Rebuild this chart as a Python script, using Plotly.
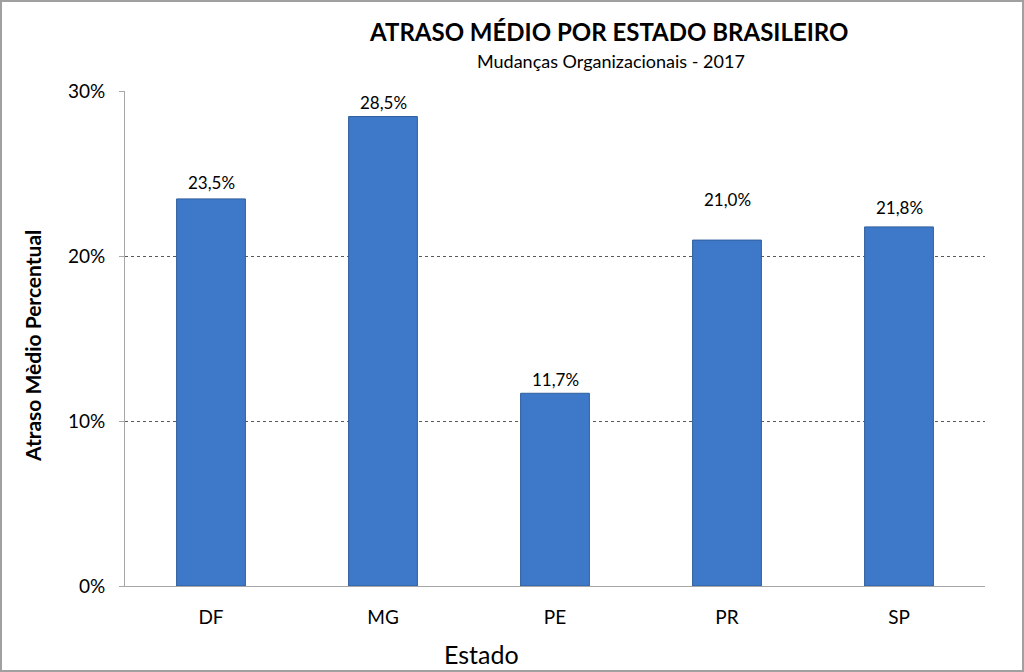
import plotly.graph_objects as go

estados = ["DF", "MG", "PE", "PR", "SP"]
atraso = [0.235, 0.285, 0.117, 0.210, 0.218]
rotulos = ["23,5%", "28,5%", "11,7%", "21,0%", "21,8%"]
y_ticks = [0, 0.1, 0.2, 0.3]
y_tick_labels = ["0%", "10%", "20%", "30%"]

# label offsets above bar tops (pixels), style only
label_offsets_px = [16, 14, 14, 41, 19]

W, H = 1024, 672
L, R, T, B = 125, 39, 91, 86
pw, ph = W - L - R, H - T - B

FONT = "Lato"

fig = go.Figure()
fig.add_trace(go.Bar(
    x=estados, y=atraso,
    marker=dict(color="#3E78C8", line=dict(color="#2F5E9E", width=1)),
    width=0.4,
))

for e, v, t, off in zip(estados, atraso, rotulos, label_offsets_px):
    fig.add_annotation(x=e, y=v, text=t, showarrow=False, yshift=off,
                       font=dict(family=FONT, size=17, color="black"))

def py(px):
    return (H - B - px) / ph

def px_x(px):
    return (px - L) / pw

fig.add_annotation(xref="paper", yref="paper", x=px_x(608), y=py(32),
                   text="<b>ATRASO MÉDIO POR ESTADO BRASILEIRO</b>", showarrow=False,
                   font=dict(family=FONT, size=24, color="black"), yanchor="middle")
fig.add_annotation(xref="paper", yref="paper", x=px_x(611), y=py(61),
                   text="Mudanças Organizacionais - 2017", showarrow=False,
                   font=dict(family=FONT, size=18, color="black"), yanchor="middle")
fig.add_annotation(xref="paper", yref="paper", x=px_x(481), y=py(654),
                   text="Estado", showarrow=False,
                   font=dict(family=FONT, size=25, color="black"), yanchor="middle")
fig.add_annotation(xref="paper", yref="paper", x=px_x(32), y=py(346),
                   text="<b>Atraso Mèdio Percentual</b>", showarrow=False, textangle=-90,
                   font=dict(family=FONT, size=21, color="black"),
                   xanchor="center", yanchor="middle")

fig.update_layout(
    width=W, height=H,
    margin=dict(l=L, r=R, t=T, b=B),
    paper_bgcolor="white", plot_bgcolor="white",
    showlegend=False,
    font=dict(family=FONT, color="black"),
    xaxis=dict(
        tickfont=dict(family=FONT, size=19),
        showline=True, linecolor="#A6A6A6", linewidth=1,
        ticks="", showgrid=False, ticklabelstandoff=14,
    ),
    yaxis=dict(
        range=[0, 0.3005], tickvals=y_ticks, ticktext=y_tick_labels,
        tickfont=dict(family=FONT, size=19),
        showline=True, linecolor="#A6A6A6", linewidth=1,
        ticks="outside", ticklen=5, tickcolor="#A6A6A6", ticklabelstandoff=10,
        showgrid=True, gridcolor="#595959", griddash="dot", gridwidth=1,
        zeroline=False,
    ),
)

# outer border of the chart
fig.add_shape(type="rect", xref="paper", yref="paper",
              x0=(1 - L) / pw, x1=(W - L - 1) / pw,
              y0=-(B - 1) / ph, y1=(H - B - 1) / ph,
              line=dict(color="#A0A0A0", width=2), layer="below")

fig.write_html("out.html")
